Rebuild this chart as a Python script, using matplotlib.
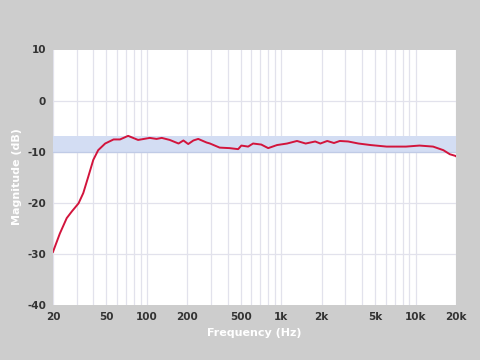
import matplotlib
matplotlib.use("Agg")
import matplotlib.pyplot as plt
import numpy as np

plt.rcParams["axes.unicode_minus"] = False

freq = [20, 22.5, 25.3, 27.6, 31, 33.6, 36.6, 39.9, 43.4, 48.9, 56.5, 63.1, 72.5, 86,
        105, 118, 129, 148, 172, 187, 203, 222, 241, 278, 295, 348, 412, 478, 505, 567,
        617, 710, 800, 930, 1105, 1310, 1520, 1790, 1955, 2200, 2470, 2730, 3150, 3760,
        4630, 6090, 8480, 10700, 13500, 16100, 18000, 19700, 20000]
mag = [-29.6, -26.0, -23.0, -21.7, -20.1, -18.1, -14.9, -11.6, -9.7, -8.4, -7.6, -7.6, -6.9, -7.7,
       -7.3, -7.5, -7.3, -7.7, -8.4, -7.8, -8.5, -7.8, -7.5, -8.2, -8.4, -9.2, -9.3, -9.5, -8.8, -9.0,
       -8.4, -8.6, -9.3, -8.7, -8.4, -7.9, -8.4, -8.0, -8.4, -7.9, -8.3, -7.9, -8.0, -8.4,
       -8.7, -9.0, -9.0, -8.8, -9.0, -9.7, -10.5, -10.8, -10.9]

band = (-10, -7)
xticks = [20, 50, 100, 200, 500, 1000, 2000, 5000, 10000, 20000]
xticklabels = ["20", "50", "100", "200", "500", "1k", "2k", "5k", "10k", "20k"]
yticks = [10, 0, -10, -20, -30, -40]

bg = "#cdcdcd"
fig = plt.figure(figsize=(4.8, 3.6), dpi=100, facecolor=bg)
ax = fig.add_axes([53/480, 1-305/360, 403/480, 255.5/360])
ax.set_facecolor("white")
ax.set_xscale("log")
ax.set_xlim(20, 20000)
ax.set_ylim(-40, 10)

grid_c = "#e2e2ec"
minor = [f for d in [10, 100, 1000, 10000] for f in np.arange(1, 10) * d if 20 <= f <= 20000]
for f in minor:
    ax.axvline(f, color=grid_c, lw=0.9, zorder=1)
for y in [0, -10, -20, -30]:
    ax.axhline(y, color=grid_c, lw=0.9, zorder=1)
ax.axhspan(band[0], band[1], color="#d3ddf3", lw=0, zorder=2)
ax.axhline(-10, color="#c0cbe6", lw=0.9, zorder=2)

ax.plot(freq, mag, color="#d2143c", lw=1.4, zorder=3, solid_joinstyle="round")

ax.set_xticks(xticks)
ax.set_xticklabels(xticklabels)
ax.set_xticks([], minor=True)
ax.set_yticks(yticks)
for s in ax.spines.values():
    s.set_visible(False)
ax.tick_params(axis="both", length=0, labelsize=7.5, labelcolor="#333333", pad=5)
for lab in ax.get_xticklabels() + ax.get_yticklabels():
    lab.set_fontweight("bold")

fig.text(254.5/480, 1-333/360, "Frequency (Hz)", color="white", fontsize=8,
         fontweight="bold", ha="center", va="center")
fig.text(17/480, 1-177/360, "Magnitude (dB)", color="white", fontsize=8,
         fontweight="bold", ha="center", va="center", rotation=90)

fig.savefig("out.png", dpi=100, facecolor=bg)
